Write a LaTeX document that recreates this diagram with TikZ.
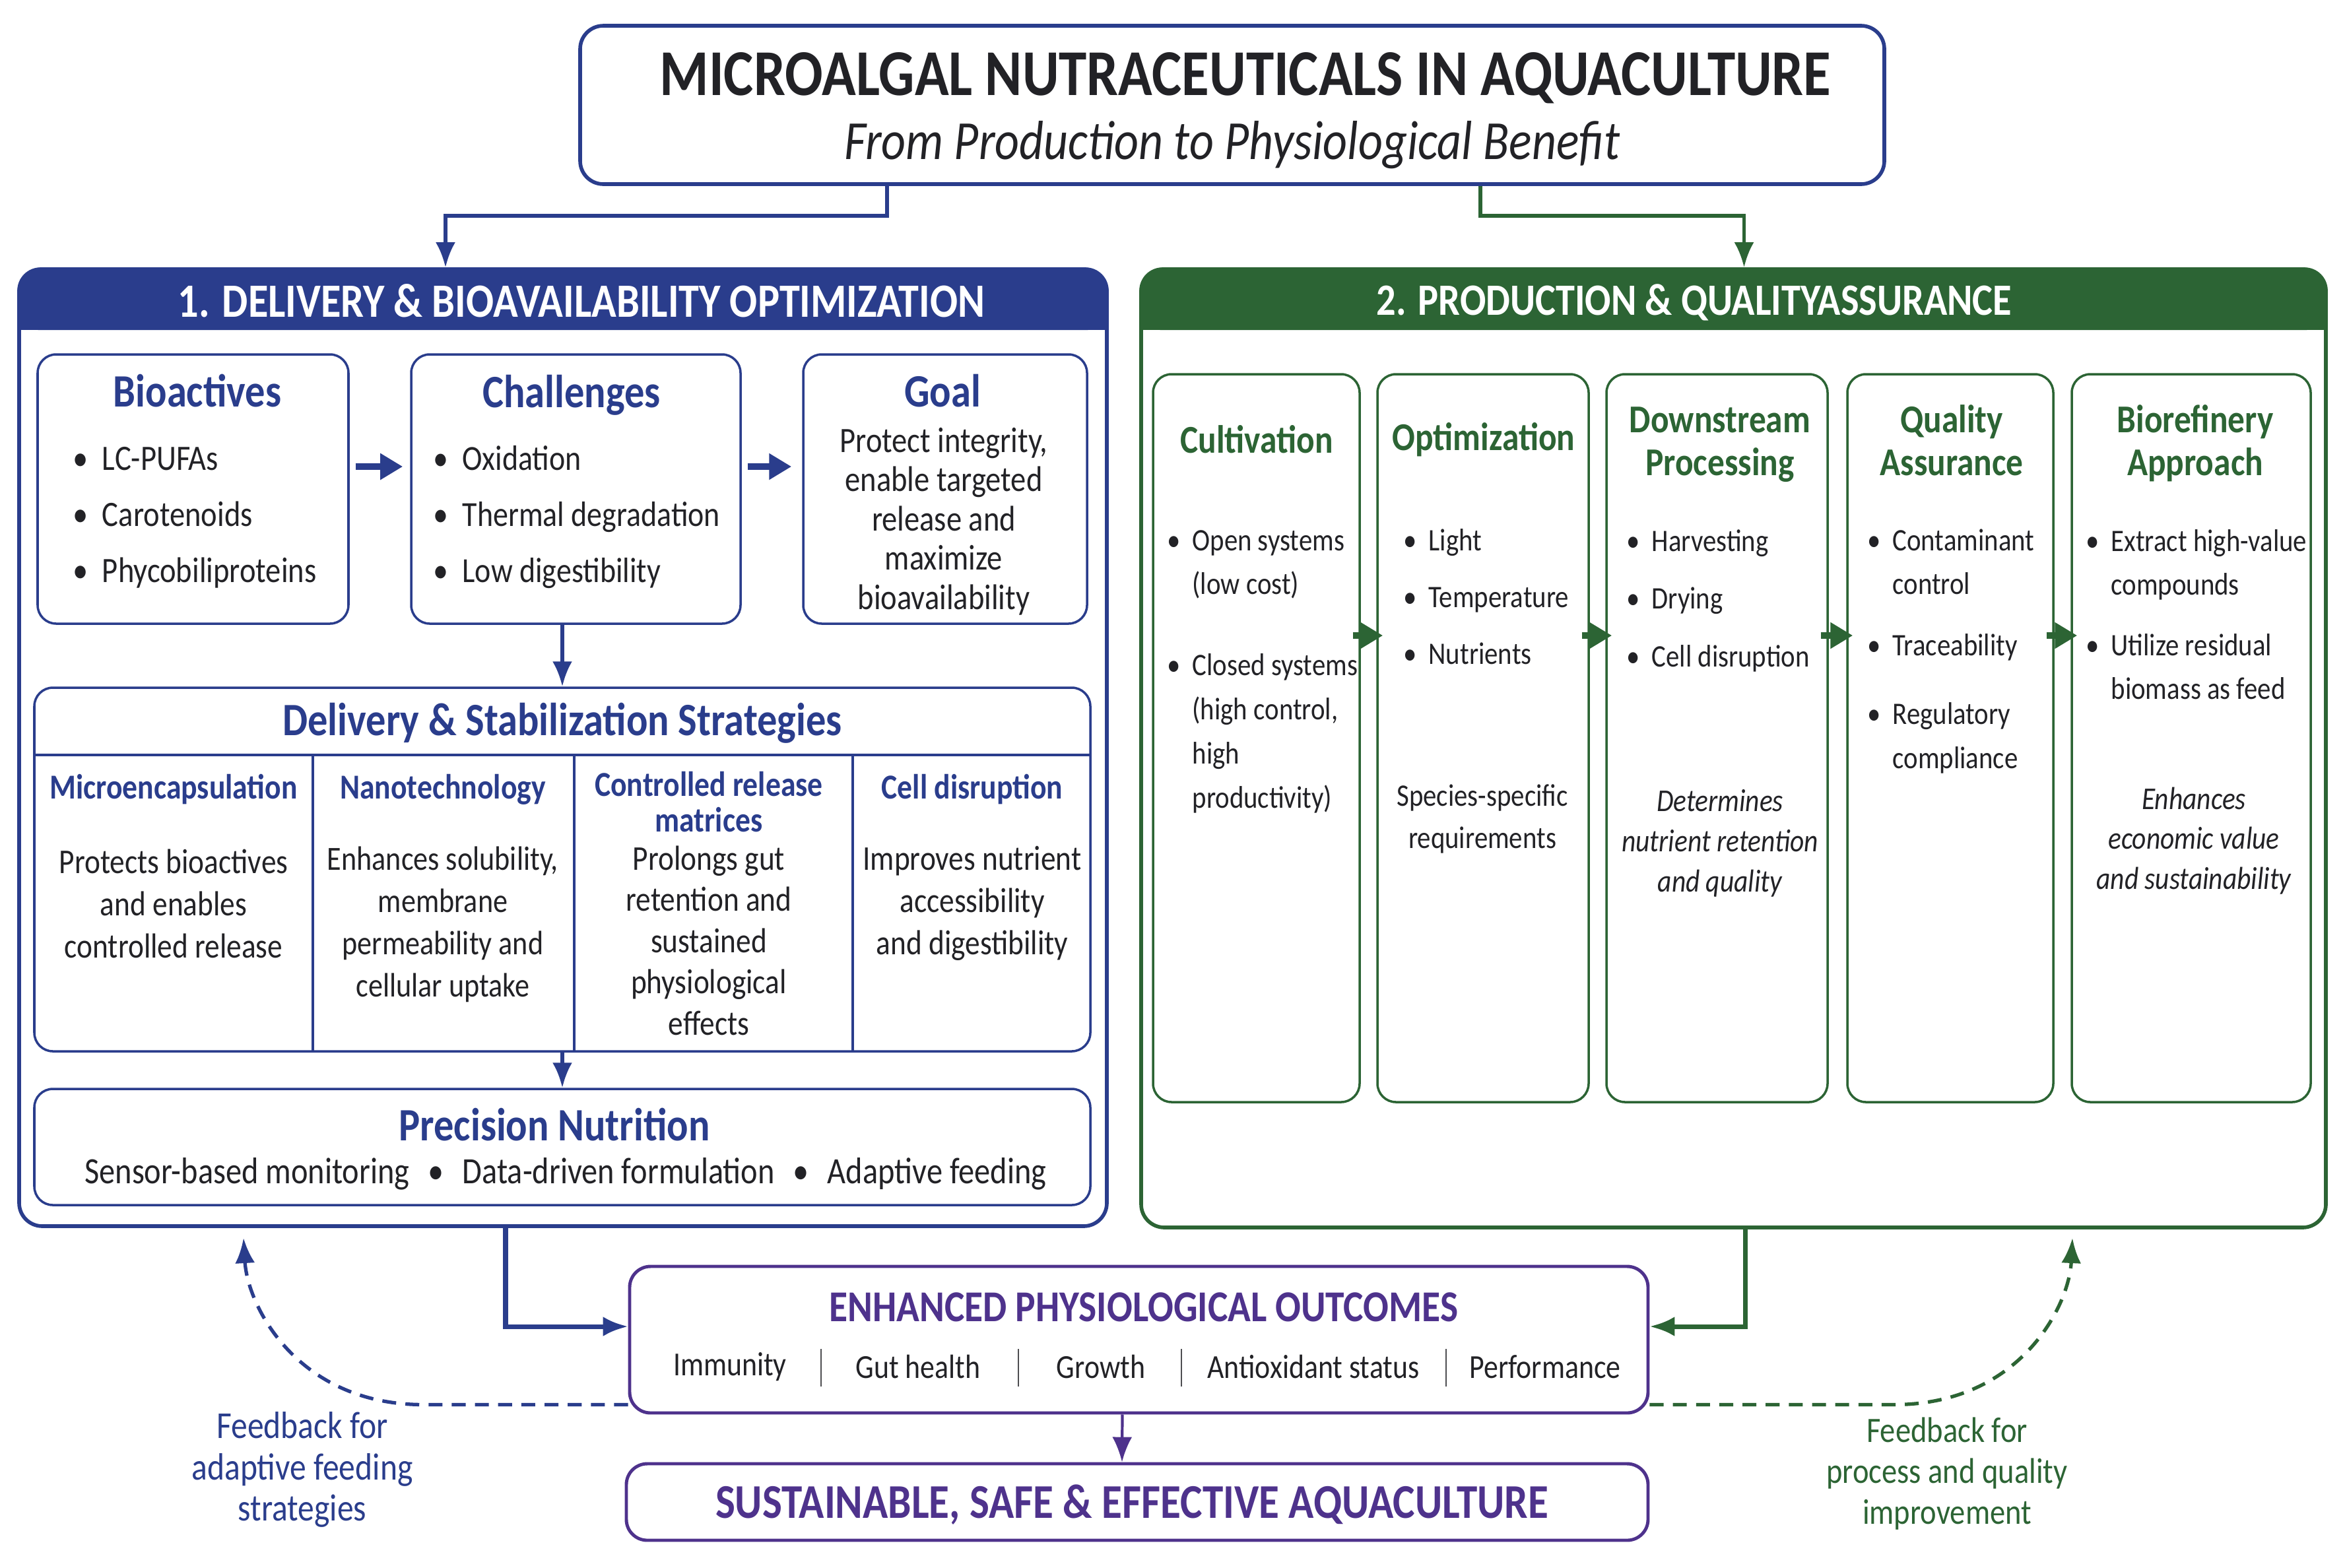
\documentclass[tikz,border=0pt]{standalone}
\usepackage{fontspec}
\setmainfont{Carlito}[FakeStretch=0.86]
\usetikzlibrary{arrows.meta,positioning,calc}
\definecolor{navy}{RGB}{42,61,140}
\definecolor{leaf}{RGB}{44,100,52}
\definecolor{plum}{RGB}{78,50,140}
\definecolor{ink}{RGB}{34,34,38}
\tikzset{
  panelbox/.style={rounded corners=10pt, line width=1.6pt, fill=white, inner sep=0pt},
  card/.style={draw=navy, rounded corners=8pt, line width=1pt, fill=white, inner sep=0pt},
  gcard/.style={draw=leaf, rounded corners=8pt, line width=1pt, fill=white, inner sep=0pt},
  pcard/.style={draw=plum, rounded corners=9pt, line width=1.4pt, fill=white, inner sep=0pt},
  band/.style={text=white, font=\bfseries\fontsize{20.6}{24}\selectfont},
  ttl/.style={text=navy, font=\bfseries\fontsize{20}{22}\selectfont, align=center},
  sttl/.style={text=navy, font=\bfseries\fontsize{15.1}{15.6}\selectfont, align=center},
  gttl/.style={text=leaf, font=\bfseries\fontsize{17}{18.5}\selectfont, align=center},
  txt/.style={text=ink, font=\fontsize{15}{18.2}\selectfont, align=center},
  gtxt/.style={text=ink, font=\fontsize{13.5}{19}\selectfont, inner sep=0pt},
  flow/.style={-{Latex[length=3.8mm,width=3mm]}, line width=1.6pt},
  push/.style={-{Triangle[length=3.4mm,width=3.8mm]}, line width=3pt},
  loopback/.style={dash pattern=on 6pt off 4pt, line width=1.5pt, -{Latex[length=3.8mm,width=3mm]}},
}
\newcommand{\bul}{\textbullet}

\begin{document}
\begin{tikzpicture}[text=ink, font=\fontsize{15}{18}\selectfont]
        \useasboundingbox (0,0) rectangle (35.53,-23.75);
        % ===================== title =====================
        \node[panelbox, draw=navy, minimum width=19.76cm, minimum height=2.40cm] (title) at (18.67,-1.59) {};
        \node[font=\bfseries\fontsize{28.2}{30}\selectfont] (titletext) at (18.87,-1.18) {MICROALGAL NUTRACEUTICALS IN AQUACULTURE};
        \node[font=\itshape\fontsize{23.8}{26}\selectfont] (subtitle) at (18.67,-2.20) {From Production to Physiological Benefit};
        % ===================== panels =====================
        \node[panelbox, draw=navy, minimum width=16.48cm, minimum height=14.50cm] (pan1) at (8.53,-11.33) {};
        \node[panelbox, draw=leaf, minimum width=17.95cm, minimum height=14.52cm] (pan2) at (26.265,-11.34) {};
        \fill[navy, rounded corners=10pt] (pan1.north west) rectangle ([yshift=-0.95cm]pan1.north east);
        \fill[navy] ([yshift=-0.5cm]pan1.north west) rectangle ([yshift=-0.95cm]pan1.north east);
        \fill[leaf, rounded corners=10pt] (pan2.north west) rectangle ([yshift=-0.95cm]pan2.north east);
        \fill[leaf] ([yshift=-0.5cm]pan2.north west) rectangle ([yshift=-0.95cm]pan2.north east);
        \node[band] (head1) at (8.81,-4.56) {1. DELIVERY \& BIOAVAILABILITY OPTIMIZATION};
        \node[band, font=\bfseries\fontsize{19.3}{24}\selectfont] (head2) at (25.67,-4.58) {2. PRODUCTION \& QUALITYASSURANCE};
        \draw[flow, navy] ([xshift=-5.23cm]title.south) -- ++(0,-0.45) -| ([xshift=-1.78cm]pan1.north);
        \draw[flow, leaf] ([xshift=3.76cm]title.south) -- ++(0,-0.45) -| ([xshift=0.16cm]pan2.north);
        % ===================== bioactives / challenges / goal =====================
        \node[card, minimum width=4.71cm, minimum height=4.08cm] (bio) at (2.925,-7.41) {};
        \node[card, minimum width=4.99cm, minimum height=4.08cm] (chal) at (8.725,-7.41) {};
        \node[card, minimum width=4.30cm, minimum height=4.08cm] (goal) at (14.32,-7.41) {};
        \node[ttl] (biottl) at (2.99,-5.92) {Bioactives};
        \node[ttl] (chalttl) at (8.66,-5.99) {Challenges};
        \node[ttl] (goalttl) at (14.28,-5.92) {Goal};
        \node[anchor=base west, font=\fontsize{15.4}{24.2}\selectfont, inner sep=0pt] (biolist) at (1.10,-7.12)
          {\begin{tabular}[t]{@{}l@{\hspace{6pt}}l@{}}\bul & LC-PUFAs\\ \bul & Carotenoids\\ \bul & Phycobiliproteins\end{tabular}};
        \node[anchor=base west, font=\fontsize{15.2}{24.2}\selectfont, inner sep=0pt] (challist) at (6.56,-7.12)
          {\begin{tabular}[t]{@{}l@{\hspace{6pt}}l@{}}\bul & Oxidation\\ \bul & Thermal degradation\\ \bul & Low digestibility\end{tabular}};
        \node[txt, font=\fontsize{15.4}{16.9}\selectfont] (goaltext) at (14.30,-7.90) {Protect integrity,\\enable targeted\\release and\\maximize\\bioavailability};
        \draw[push, navy] ([xshift=0.09cm,yshift=0.34cm]bio.east) -- ([xshift=-0.11cm,yshift=0.34cm]chal.west);
        \draw[push, navy] ([xshift=0.09cm,yshift=0.34cm]chal.east) -- ([xshift=-0.16cm,yshift=0.34cm]goal.west);
        % ===================== strategies =====================
        \node[card, minimum width=16.00cm, minimum height=5.51cm] (strat) at (8.52,-13.175) {};
        \draw[flow, navy] (chal.south -| strat.north) -- (strat.north);
        \node[ttl] (stratttl) at (8.52,-10.96) {Delivery \& Stabilization Strategies};
        \coordinate (split) at (0,-11.44);
        \draw[navy, line width=1pt] (strat.west |- split) -- (strat.east |- split);
        \foreach \x in {4.74,8.70,12.92}
          \draw[navy, line width=1pt] (\x,-11.44) -- (\x,-15.93);
        \node[sttl] (micro) at (2.63,-11.96) {Microencapsulation};
        \node[sttl] (nano) at (6.71,-11.96) {Nanotechnology};
        \node[sttl] (ctrl) at (10.74,-12.15) {Controlled release\\matrices};
        \node[sttl] (cell) at (14.73,-11.96) {Cell disruption};
        \node[txt] (microtext) at (2.63,-13.69) {Protects bioactives\\and enables\\controlled release};
        \node[txt, font=\fontsize{14.6}{18.2}\selectfont] (nanotext) at (6.71,-14.01) {Enhances solubility,\\membrane\\permeability and\\cellular uptake};
        \node[txt, font=\fontsize{15}{17.8}\selectfont] (ctrltext) at (10.74,-14.25) {Prolongs gut\\retention and\\sustained\\physiological\\effects};
        \node[txt] (celltext) at (14.73,-13.69) {Improves nutrient\\accessibility\\and digestibility};
        % ===================== precision nutrition =====================
        \node[card, minimum width=16.00cm, minimum height=1.76cm] (prec) at (8.52,-17.38) {};
        \draw[flow, navy] (strat.south) -- (prec.north);
        \node[ttl] (precttl) at (8.40,-17.04) {Precision Nutrition};
        \node[font=\fontsize{16}{18}\selectfont] (precitems) at (8.57,-17.79)
          {Sensor-based monitoring\hspace{8pt}\bul\hspace{8pt}Data-driven formulation\hspace{8pt}\bul\hspace{8pt}Adaptive feeding};
        % ===================== production columns =====================
        \node[gcard, minimum width=3.13cm, minimum height=11.03cm] (cult) at (19.035,-11.185) {};
        \node[gcard, minimum width=3.20cm, minimum height=11.03cm] (opti) at (22.47,-11.185) {};
        \node[gcard, minimum width=3.35cm, minimum height=11.03cm] (down) at (26.015,-11.185) {};
        \node[gcard, minimum width=3.12cm, minimum height=11.03cm] (qual) at (29.55,-11.185) {};
        \node[gcard, minimum width=3.62cm, minimum height=11.03cm] (bior) at (33.20,-11.185) {};
        \foreach \a/\b in {cult/opti, opti/down, down/qual, qual/bior}
          \draw[push, leaf] ([xshift=-0.12cm,yshift=1.555cm]\a.east) -- ([xshift=0.1cm,yshift=1.555cm]\b.west);
        \node[gttl] (cultttl) at (19.04,-6.66) {Cultivation};
        \node[gttl] (optittl) at (22.48,-6.66) {Optimization};
        \node[gttl] (downttl) at (26.06,-6.74) {Downstream\\Processing};
        \node[gttl] (qualttl) at (29.57,-6.67) {Quality\\Assurance};
        \node[gttl] (biorttl) at (33.26,-6.72) {Biorefinery\\Approach};
        \node[gtxt, anchor=base west] (cultlist) at (17.68,-8.34)
          {\begin{tabular}[t]{@{}l@{\hspace{5pt}}l@{}}\bul & Open systems\\ & (low cost)\\[16pt] \bul & Closed systems\\ & (high control,\\ & high\\ & productivity)\end{tabular}};
        \node[gtxt, anchor=base west] (optilist) at (21.26,-8.34)
          {\begin{tabular}[t]{@{}l@{\hspace{5pt}}l@{}}\bul & Light\\[5.5pt] \bul & Temperature\\[5.5pt] \bul & Nutrients\end{tabular}};
        \node[gtxt, align=center, font=\fontsize{13.5}{18.3}\selectfont] (optinote) at (22.46,-12.41) {Species-specific\\requirements};
        \node[gtxt, anchor=base west] (downlist) at (24.64,-8.35)
          {\begin{tabular}[t]{@{}l@{\hspace{5pt}}l@{}}\bul & Harvesting\\[6pt] \bul & Drying\\[6pt] \bul & Cell disruption\end{tabular}};
        \node[gtxt, align=center, font=\itshape\fontsize{13.7}{17.3}\selectfont] (downnote) at (26.06,-12.78) {Determines\\nutrient retention\\and quality};
        \node[gtxt, anchor=base west] (quallist) at (28.29,-8.34)
          {\begin{tabular}[t]{@{}l@{\hspace{5pt}}l@{}}\bul & Contaminant\\ & control\\[7.5pt] \bul & Traceability\\[10.5pt] \bul & Regulatory\\ & compliance\end{tabular}};
        \node[gtxt, anchor=base west] (biorlist) at (31.60,-8.35)
          {\begin{tabular}[t]{@{}l@{\hspace{5pt}}l@{}}\bul & Extract high-value\\ & compounds\\[7pt] \bul & Utilize residual\\ & biomass as feed\end{tabular}};
        \node[gtxt, align=center, font=\itshape\fontsize{13.7}{17.3}\selectfont] (biornote) at (33.24,-12.74) {Enhances\\economic value\\and sustainability};
        % ===================== outcomes =====================
        \node[pcard, minimum width=15.43cm, minimum height=2.22cm] (enh) at (17.255,-20.30) {};
        \node[text=plum, font=\bfseries\fontsize{19}{22}\selectfont] (enhttl) at (17.33,-19.81) {ENHANCED PHYSIOLOGICAL OUTCOMES};
        \foreach \n/\x/\t in {imm/11.06/Immunity, gut/13.91/Gut health, gro/16.68/Growth, anti/19.90/Antioxidant status, perf/23.41/Performance}
          \node[font=\fontsize{14.5}{17}\selectfont] (\n) at (\x,-20.71) {\t};
        \foreach \x in {12.44,15.43,17.90,21.91}
          \draw[ink!80, line width=0.8pt] (\x,-20.44) -- (\x,-21.01);
        \node[pcard, minimum width=15.48cm, minimum height=1.16cm] (sust) at (17.23,-22.76) {};
        \node[text=plum, font=\bfseries\fontsize{20.9}{24}\selectfont] (susttext) at (17.15,-22.80) {SUSTAINABLE, SAFE \& EFFECTIVE AQUACULTURE};
        \draw[flow, plum, line width=1.2pt] ([xshift=-0.25cm]enh.south) -- ([xshift=-0.23cm]sust.north);
        \draw[flow, navy, line width=2pt] ([xshift=-0.87cm]pan1.south) |- ([yshift=0.2cm]enh.west);
        \draw[flow, leaf, line width=2pt] ([xshift=0.18cm]pan2.south) |- ([yshift=0.2cm]enh.east);
        % ===================== feedback =====================
        \coordinate (fbleft) at (3.69,-18.76);
        \coordinate (fbright) at (31.40,-18.76);
        \draw[loopback, navy] ([yshift=0.15cm]enh.south west) -- ++(-3.1,0) .. controls +(-1.9,0) and (3.75,-19.8) .. (fbleft);
        \draw[loopback, leaf] ([yshift=0.15cm]enh.south east) -- ++(3.7,0) .. controls +(1.9,0) and (31.35,-19.8) .. (fbright);
        \node[text=navy, align=center, font=\fontsize{16.4}{17.8}\selectfont] (fbltext) at (4.58,-22.27) {Feedback for\\adaptive feeding\\strategies};
        \node[text=leaf, align=center, font=\fontsize{15.4}{17.6}\selectfont] (fbrtext) at (29.50,-22.33) {Feedback for\\process and quality\\improvement};
\end{tikzpicture}
\end{document}
